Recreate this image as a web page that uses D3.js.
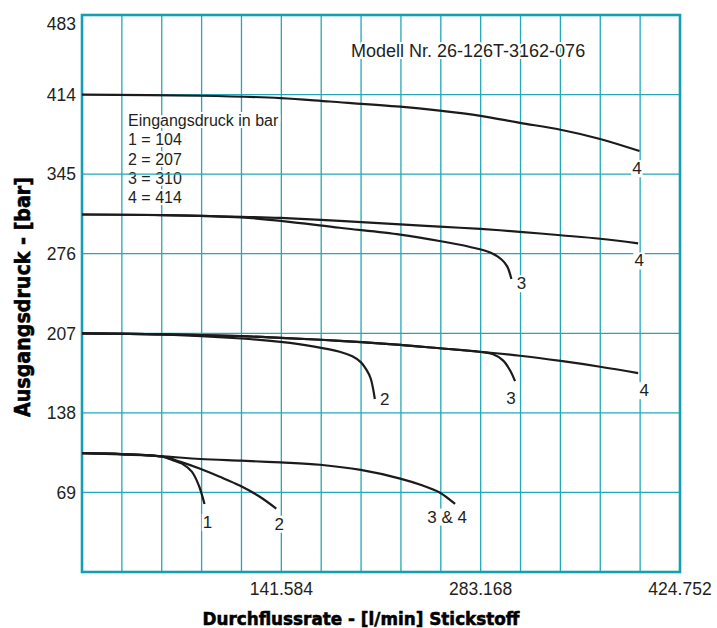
<!DOCTYPE html>
<html>
<head>
<meta charset="utf-8">
<script src="https://cdn.jsdelivr.net/npm/d3@7"></script>
<style>
  body { margin: 0; background: #fff; }
  text { font-family: "Liberation Sans", Arial, sans-serif; fill: #231f20; }
</style>
</head>
<body>
<div id="chart"></div>
<script>
var width = 717;
var height = 628;

// legend: inlet pressure per curve number
var inletCodes = ["1", "2", "3", "4"];
var inletPressures = [104, 207, 310, 414];
var legendTitle = "Eingangsdruck in bar";
var modelText = "Modell Nr. 26-126T-3162-076";

// axes
var xStep = 28.3168;
var xTickValues = d3.range(0, 16).map(function(i) { return +(i * xStep).toFixed(4); });
var xTickLabels = [141.584, 283.168, 424.752];
var yTickValues = [0, 69, 138, 207, 276, 345, 414, 483];
var yTickLabels = [69, 138, 207, 276, 345, 414, 483];
var xTitle = "Durchflussrate - [l/min] Stickstoff";
var yTitle = "Ausgangsdruck - [bar]";

// curves: [flow l/min, outlet pressure bar]
var c104_1  = [[0,103],[28,102.3],[57,100],[64,97.2],[71,94],[78,87],[83,75],[87,59]];
var c104_2  = [[0,103],[28,102.3],[57,100],[70,95.5],[84,89.5],[98,82.5],[112,75],[126,65.5],[138,55]];
var c104_34 = [[0,103],[28,102],[55,100.5],[84,98],[113,96.5],[141,95],[169,93],[198,88.5],[226,81],[242,75],[254,69],[265,59]];
var c207_2  = [[0,207],[57,206],[113,202.5],[141,199.5],[165,195.5],[183,191],[192,187],[198,182],[202,175.5],[205,168],[208,150]];
var c207_3  = [[0,207],[57,206],[113,204.5],[141,203],[183,200.5],[226,197],[254,194],[283,190.8],[292,188.8],[299,183.5],[304,175],[307.6,165.5]];
var c207_4  = [[0,207],[57,206],[113,204.5],[141,203],[183,200.5],[226,197],[254,194],[283,191],[311,187.5],[340,183],[368,178],[395,172.5]];
var c310_3  = [[0,310],[57,309.5],[113,307.5],[141,304.5],[183,298.5],[226,292.5],[254,287],[275,282],[290,277],[298,271],[302,265],[305,254]];
var c310_4  = [[0,310],[57,309.5],[113,308],[141,307],[183,304.5],[226,301.5],[254,299.5],[283,297.5],[311,295],[340,292],[368,289],[395,285]];
var c414_4  = [[0,414],[84,413],[141,411],[176,408],[226,403.5],[254,400],[283,395.5],[311,389.5],[340,383.5],[368,375.5],[396,365]];

var curves = [c104_1, c104_2, c104_34, c207_2, c207_3, c207_4, c310_3, c310_4, c414_4];
var curveNames = ["1", "2", "3 & 4", "2", "3", "4", "3", "4", "4"];

// plot box
var plotLeft = 82, plotRight = 680, plotTop = 15, plotBottom = 572;
var gridColor = "#22a9b7";
var frameColor = "#14a0b0";

var x = d3.scaleLinear().domain([0, 424.752]).range([plotLeft, plotRight]);
var y = d3.scaleLinear().domain([0, 483]).range([plotBottom, plotTop]);

var svg = d3.select("#chart")
  .append("svg")
  .attr("width", width)
  .attr("height", height);

// vertical grid
svg.append("g")
  .selectAll("line")
  .data(xTickValues)
  .enter()
  .append("line")
  .attr("x1", function(d) { return x(d); })
  .attr("x2", function(d) { return x(d); })
  .attr("y1", plotTop)
  .attr("y2", plotBottom)
  .style("stroke", gridColor)
  .style("stroke-width", 1.3);

// legend block (white halo breaks the vertical lines)
var legendLines = [legendTitle].concat(inletCodes.map(function(c, i) {
  return c + " = " + inletPressures[i];
}));
svg.append("g")
  .selectAll("text")
  .data(legendLines)
  .enter()
  .append("text")
  .attr("x", 128)
  .attr("y", function(d, i) { return 126 + i * 19.3; })
  .style("font-size", "16px")
  .style("stroke", "#fff")
  .style("stroke-width", 4)
  .style("paint-order", "stroke")
  .text(function(d) { return d; });

svg.append("text")
  .attr("x", 351)
  .attr("y", 56.5)
  .style("font-size", "18px")
  .style("stroke", "#fff")
  .style("stroke-width", 4)
  .style("paint-order", "stroke")
  .text(modelText);

// horizontal grid
svg.append("g")
  .selectAll("line")
  .data(yTickValues)
  .enter()
  .append("line")
  .attr("x1", plotLeft)
  .attr("x2", plotRight)
  .attr("y1", function(d) { return y(d); })
  .attr("y2", function(d) { return y(d); })
  .style("stroke", gridColor)
  .style("stroke-width", 1.3);

// frame
svg.append("rect")
  .attr("x", plotLeft)
  .attr("y", plotTop)
  .attr("width", plotRight - plotLeft)
  .attr("height", plotBottom - plotTop)
  .style("fill", "none")
  .style("stroke", frameColor)
  .style("stroke-width", 2.6);

// curves
var line = d3.line()
  .x(function(d) { return x(d[0]); })
  .y(function(d) { return y(d[1]); })
  .curve(d3.curveCatmullRom.alpha(0.5));

svg.append("g")
  .selectAll("path")
  .data(curves)
  .enter()
  .append("path")
  .attr("d", line)
  .style("fill", "none")
  .style("stroke", "#1c1a1b")
  .style("stroke-width", 2.2);

// curve end labels, offset from the last point of each curve
var labelOffsets = [[3,18],[3,15],[-8,12.5],[10,0],[-4,17],[6,17],[10,4],[1,17],[-2.6,17]];
var labels = svg.append("g")
  .selectAll("g")
  .data(curves)
  .enter()
  .append("g")
  .attr("transform", function(d, i) {
    var p = d[d.length - 1];
    return "translate(" + (x(p[0]) + labelOffsets[i][0]) + "," + (y(p[1]) + labelOffsets[i][1]) + ")";
  });
labels.append("text")
  .attr("text-anchor", "middle")
  .attr("dy", "0.36em")
  .style("font-size", "17px")
  .text(function(d, i) { return curveNames[i]; });
labels.insert("rect", "text")
  .each(function() {
    var b = this.parentNode.querySelector("text").getBBox();
    d3.select(this)
      .attr("x", b.x - 1)
      .attr("y", b.y + 1)
      .attr("width", b.width + 2)
      .attr("height", b.height - 2)
      .style("fill", "#fff");
  });

// tick labels
svg.append("g")
  .selectAll("text")
  .data(yTickLabels)
  .enter()
  .append("text")
  .attr("x", 76)
  .attr("y", function(d) { return d === 483 ? y(d) + 9 : y(d); })
  .attr("dy", "0.36em")
  .attr("text-anchor", "end")
  .style("font-size", "17.5px")
  .text(function(d) { return d; });

svg.append("g")
  .selectAll("text")
  .data(xTickLabels)
  .enter()
  .append("text")
  .attr("x", function(d) { return x(d); })
  .attr("y", 594.5)
  .attr("text-anchor", "middle")
  .style("font-size", "17.5px")
  .text(function(d) { return d; });

// axis titles
svg.append("text")
  .attr("x", 361)
  .attr("y", 624.5)
  .attr("text-anchor", "middle")
  .attr("textLength", 317)
  .attr("lengthAdjust", "spacingAndGlyphs")
  .style("font-family", "'DejaVu Sans', sans-serif")
  .style("font-weight", "bold")
  .style("font-size", "18.5px")
  .style("stroke", "#000")
  .style("stroke-width", 0.6)
  .style("fill", "#000")
  .text(xTitle);

svg.append("text")
  .attr("transform", "translate(29.5,297) rotate(-90)")
  .attr("text-anchor", "middle")
  .attr("textLength", 240)
  .attr("lengthAdjust", "spacingAndGlyphs")
  .style("font-family", "'DejaVu Sans', sans-serif")
  .style("font-weight", "bold")
  .style("font-size", "21px")
  .style("stroke", "#000")
  .style("stroke-width", 0.6)
  .style("fill", "#000")
  .text(yTitle);
</script>
</body>
</html>
